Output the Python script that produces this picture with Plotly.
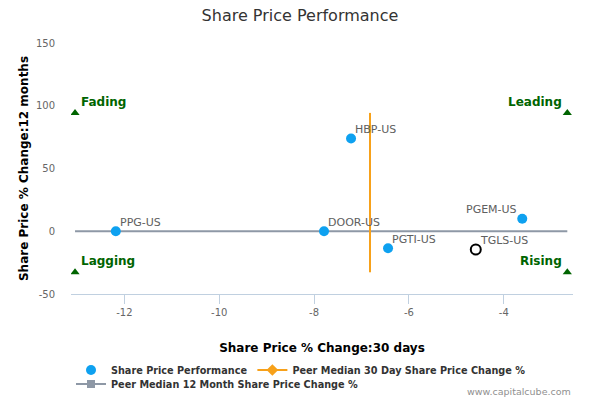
import plotly.graph_objects as go

# ── data ──────────────────────────────────────────────────────────────────────
tickers = ["PPG-US", "DOOR-US", "HBP-US", "PGTI-US", "PGEM-US"]
chg_30d = [-12.18, -7.79, -7.22, -6.44, -3.61]
chg_12m = [0.0, 0.0, 73.9, -13.5, 9.9]

focus_ticker = ["TGLS-US"]
focus_30d = [-4.59]
focus_12m = [-14.6]

median_30d = -6.82
median_12m = 0.0
quad_x = [-13.04, -2.66, -13.04, -2.66]
quad_y = [94.3, 94.3, -32.7, -32.7]
quad_labels = ["Fading", "Leading", "Lagging", "Rising"]

x_ticks = [-12, -10, -8, -6, -4]
x_tick_labels = ["-12", "-10", "-8", "-6", "-4"]
y_ticks = [-50, 0, 50, 100, 150]
y_tick_labels = ["-50", "0", "50", "100", "150"]

BLUE = "#0ea1f0"
ORANGE = "#f7a11a"
GREY = "#8e98a6"
GREEN = "#006400"

fig = go.Figure()

# quadrant marker triangles
fig.add_trace(go.Scatter(
    x=quad_x, y=quad_y, mode="markers",
    marker=dict(symbol="triangle-up", size=8, color=GREEN),
    showlegend=False, hoverinfo="skip",
))

# peer median lines (drawn without markers, legend entries separate)
fig.add_trace(go.Scatter(
    x=[min(quad_x), max(quad_x)], y=[median_12m, median_12m], mode="lines",
    line=dict(color=GREY, width=2), showlegend=False,
))
fig.add_trace(go.Scatter(
    x=[median_30d, median_30d], y=[min(quad_y), max(quad_y)], mode="lines",
    line=dict(color=ORANGE, width=2), showlegend=False,
))

fig.add_trace(go.Scatter(
    x=chg_30d, y=chg_12m, mode="markers", name="Share Price Performance",
    marker=dict(size=10, color=BLUE),
))
fig.add_trace(go.Scatter(
    x=[None], y=[None], mode="lines+markers",
    name="Peer Median 30 Day Share Price Change %",
    line=dict(color=ORANGE, width=2),
    marker=dict(symbol="diamond", size=9, color=ORANGE),
))
fig.add_trace(go.Scatter(
    x=[None], y=[None], mode="lines+markers", legend="legend2",
    name="Peer Median 12 Month Share Price Change %",
    line=dict(color=GREY, width=2),
    marker=dict(symbol="square", size=8, color=GREY),
))
fig.add_trace(go.Scatter(
    x=focus_30d, y=focus_12m, mode="markers", showlegend=False,
    marker=dict(size=10, color="white", line=dict(color="black", width=2)),
))

# point labels
for name, x, y in zip(tickers + focus_ticker, chg_30d + focus_30d, chg_12m + focus_12m):
    left = name == "PGEM-US"
    fig.add_annotation(
        x=x, y=y, text=name, showarrow=False,
        xanchor="right" if left else "left", yanchor="middle",
        xshift=-3 if left else 2, yshift=9,
        font=dict(family="DejaVu Sans", size=11, color="#606060"),
    )

# quadrant labels
for name, x, y in zip(quad_labels, quad_x, quad_y):
    right = x > median_30d
    fig.add_annotation(
        x=x, y=y, text=name, showarrow=False,
        xanchor="right" if right else "left", yanchor="middle",
        xshift=-3 if right else 4, yshift=11,
        font=dict(family="DejaVu Sans", size=12, color=GREEN, weight="bold"),
    )

fig.add_annotation(
    xref="paper", yref="paper", x=1.0, y=-0.39, xanchor="right", yanchor="middle",
    text="www.capitalcube.com", showarrow=False,
    font=dict(family="DejaVu Sans", size=9.5, color="#909090"),
)

legend_font = dict(size=9.7, color="#333333", weight="bold")

fig.update_layout(
    width=600, height=400,
    paper_bgcolor="white", plot_bgcolor="white",
    margin=dict(l=71, r=27, t=43, b=106),
    font=dict(family="DejaVu Sans", color="#333333"),
    title=dict(text="Share Price Performance", x=0.5, xanchor="center",
               y=1 - 15.7 / 400, yanchor="middle",
               font=dict(size=16, color="#333333")),
    xaxis=dict(
        range=[-13.125, -2.54], tickvals=x_ticks, ticktext=x_tick_labels,
        showgrid=False, zeroline=False,
        showline=True, linecolor="#c0d0e0", linewidth=1,
        ticks="outside", ticklen=9, tickcolor="#c0d0e0",
        tickfont=dict(size=10, color="#666666"),
        title=dict(text="Share Price % Change:30 days", standoff=26,
                   font=dict(size=12, color="black", weight="bold")),
        automargin=False,
    ),
    yaxis=dict(
        range=[-50, 150], tickvals=y_ticks, ticktext=y_tick_labels,
        showgrid=False, zeroline=False, showline=False,
        ticklabelstandoff=15,
        tickfont=dict(size=10, color="#666666"),
        title=dict(text="Share Price % Change:12 months", standoff=4,
                   font=dict(size=12, color="black", weight="bold")),
        automargin=False,
    ),
    legend=dict(
        orientation="h", xref="container", yref="container",
        x=71 / 600, xanchor="left", y=1 - 355.5 / 400, yanchor="top",
        font=legend_font, bgcolor="rgba(0,0,0,0)",
    ),
    legend2=dict(
        orientation="h", xref="container", yref="container",
        x=71 / 600, xanchor="left", y=1 - 369.5 / 400, yanchor="top",
        font=legend_font, bgcolor="rgba(0,0,0,0)",
    ),
    showlegend=True,
)

fig.write_html("out.html", config={"displayModeBar": False},
               post_script="document.body.style.margin='0';")
